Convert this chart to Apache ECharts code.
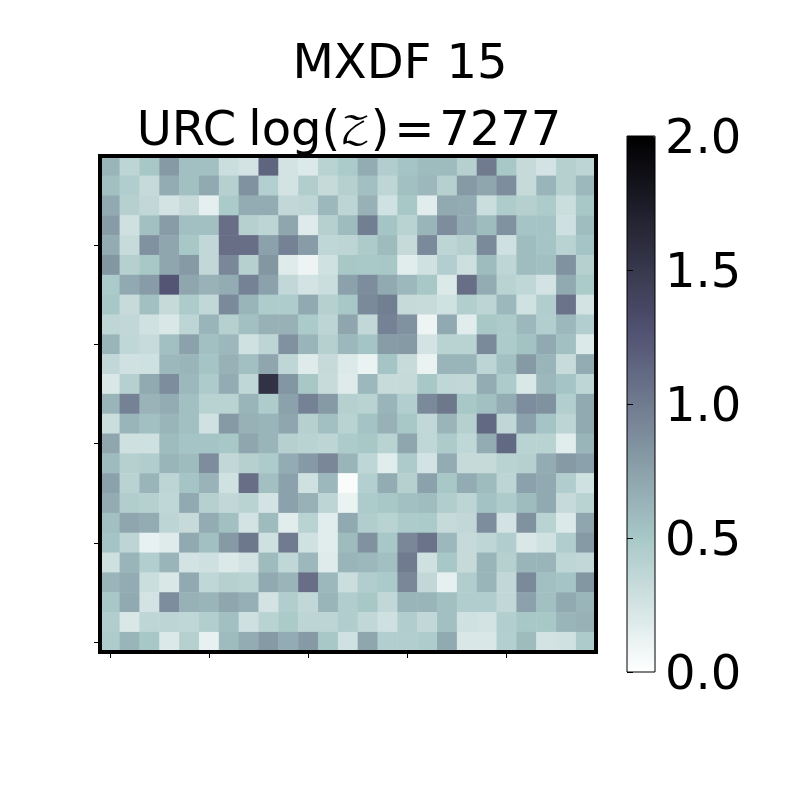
<!DOCTYPE html>
<html>
<head>
<meta charset="utf-8">
<style>html,body{margin:0;padding:0;background:#fff}#c{width:800px;height:800px}</style>
<script src="https://cdn.jsdelivr.net/npm/echarts@6/dist/echarts.min.js"></script>
</head>
<body>
<div id="c"></div>
<script>
const mainTitle = 'MXDF 15';
const subTitle = 'URC\u2005log({z|𝒵})\u200a=\u200a7277';
const colorbarTicks = [0, 0.5, 1, 1.5, 2];
const colCats = Array.from({length: 25}, (_, i) => String(i));
const rowCats = Array.from({length: 25}, (_, i) => String(i));
// rows listed top to bottom
const cellValues = [
[.62,.38,.5,.8,.55,.55,.3,.25,1.15,.25,.2,.4,.48,.68,.45,.52,.58,.58,.42,1.0,.5,.33,.25,.42,.38],
[.55,.45,.33,.68,.55,.7,.42,.85,.43,.25,.45,.33,.42,.55,.37,.55,.6,.42,.8,.72,.88,.33,.62,.42,.6],
[.7,.42,.35,.25,.33,.15,.48,.68,.68,.35,.37,.6,.38,.65,.27,.5,.17,.7,.68,.3,.46,.42,.47,.3,.5],
[.78,.28,.55,.78,.55,.55,1.08,.42,.38,.72,.18,.42,.58,.98,.52,.4,.62,.88,.68,.58,.85,.52,.52,.28,.57],
[.68,.32,.85,.72,.5,.35,1.08,1.08,.75,.95,.78,.36,.38,.47,.58,.33,.9,.38,.42,.9,.28,.57,.52,.4,.52],
[.82,.42,.5,.72,.8,.35,.92,.42,.82,.18,.1,.27,.5,.49,.5,.17,.27,.44,.29,.58,.37,.57,.55,.85,.42],
[.48,.7,.78,1.25,.72,.64,.68,.95,.75,.35,.25,.3,.75,.88,.7,.6,.5,.2,1.08,.68,.4,.36,.25,.7,.48],
[.5,.32,.55,.33,.47,.35,.9,.62,.46,.46,.7,.42,.5,.9,.98,.33,.32,.27,.44,.38,.6,.27,.45,1.05,.25],
[.37,.35,.27,.22,.38,.62,.42,.55,.65,.65,.48,.38,.72,.35,.95,.85,.1,.7,.17,.5,.47,.6,.44,.6,.44],
[.62,.36,.32,.55,.75,.55,.6,.27,.38,.85,.62,.42,.6,.52,.78,.8,.25,.4,.4,.9,.47,.54,.7,.55,.2],
[.35,.27,.28,.6,.62,.52,.65,.55,.72,.37,.18,.33,.2,.12,.52,.32,.12,.62,.62,.38,.55,.8,.62,.32,.68],
[.22,.42,.7,.88,.6,.47,.68,.36,1.55,.82,.5,.32,.18,.6,.32,.33,.5,.36,.35,.68,.47,.22,.6,.52,.37],
[.62,.95,.63,.68,.55,.4,.4,.62,.46,.75,.95,.8,.42,.4,.62,.44,.9,1.02,.5,.55,.68,.88,.85,.44,.7],
[.3,.62,.55,.62,.55,.27,.8,.65,.62,.72,.42,.55,.4,.53,.65,.5,.35,.62,.42,1.12,.36,.75,.52,.38,.7],
[.72,.28,.28,.58,.52,.52,.5,.72,.62,.42,.4,.38,.47,.5,.4,.72,.36,.47,.36,.68,1.12,.4,.4,.17,.62],
[.58,.42,.45,.62,.58,.88,.35,.42,.47,.68,.8,.92,.62,.37,.17,.47,.25,.68,.33,.33,.4,.42,.68,.8,.75],
[.75,.4,.62,.38,.52,.63,.27,1.08,.55,.75,.28,.6,.03,.43,.68,.42,.75,.5,.68,.58,.38,.75,.7,.45,.27],
[.68,.45,.42,.36,.7,.42,.35,.4,.25,.75,.65,.38,.12,.47,.5,.55,.57,.45,.38,.54,.47,.58,.7,.33,.4],
[.55,.72,.68,.38,.33,.68,.55,.25,.58,.17,.4,.17,.7,.45,.4,.47,.48,.33,.35,.88,.25,.85,.4,.2,.72],
[.52,.38,.13,.18,.7,.55,.8,1.02,.28,1.0,.27,.17,.58,.85,.5,.92,1.05,.6,.33,.37,.45,.22,.27,.45,.8],
[.28,.62,.44,.62,.25,.28,.2,.25,.58,.36,.6,.18,.62,.6,.55,1.0,.28,.5,.33,.62,.42,.62,.62,.37,.35],
[.62,.68,.3,.22,.7,.36,.42,.4,.7,.62,1.08,.6,.3,.45,.48,.92,.35,.14,.45,.62,.35,.9,.55,.52,.82],
[.5,.7,.25,.88,.65,.62,.72,.66,.25,.45,.35,.62,.45,.5,.35,.62,.62,.55,.45,.45,.35,.75,.55,.7,.62],
[.45,.22,.37,.38,.36,.44,.55,.28,.4,.48,.38,.38,.45,.35,.28,.45,.35,.55,.27,.25,.44,.5,.5,.62,.65],
[.46,.62,.5,.2,.42,.13,.58,.68,.8,.68,.8,.5,.27,.72,.44,.44,.46,.7,.22,.22,.43,.58,.25,.27,.47]
];

// matplotlib "bone" anchors, reversed
function seg(t, pts) {
  for (let i = 1; i < pts.length; i++) {
    if (t <= pts[i][0]) {
      const a = pts[i - 1], b = pts[i];
      return a[1] + (b[1] - a[1]) * (t - a[0]) / (b[0] - a[0]);
    }
  }
  return 1;
}
const R = [[0,0],[.746032,.652778],[1,1]];
const G = [[0,0],[.365079,.319444],[.746032,.777778],[1,1]];
const B = [[0,0],[.365079,.444444],[1,1]];
const palette = [];
for (let i = 0; i <= 64; i++) {
  const t = 1 - i / 64;
  palette.push('rgb(' + [R, G, B].map(p => Math.round(seg(t, p) * 255)).join(',') + ')');
}

const cells = [];
cellValues.forEach((row, k) => row.forEach((v, c) => cells.push([c, 24 - k, v])));

const font = '"DejaVu Sans"';
const mathFont = font + ', "DejaVu Math TeX Gyre", "DejaVu Serif"';
const everyFifth = i => i % 5 === 0;
const chart = echarts.init(document.getElementById('c'), null, {renderer: 'canvas'});
chart.setOption({
  animation: false,
  backgroundColor: '#fff',
  title: [
    {text: mainTitle, left: 400, top: 42, textAlign: 'center', padding: 0,
     textStyle: {fontFamily: font, fontSize: 48, fontWeight: 'normal', color: '#000'}},
    {text: subTitle, left: 349, top: 109, textAlign: 'center', padding: 0,
     textStyle: {fontFamily: mathFont, fontSize: 48, fontWeight: 'normal', color: '#000',
       rich: {z: {fontFamily: mathFont, fontSize: 38, color: '#000'}}}}
  ],
  grid: [
    {left: 100, top: 156, width: 496, height: 496, show: true, borderColor: '#000', borderWidth: 0, containLabel: false},
    {left: 627, top: 136, width: 28, height: 536, show: true, z: 6, borderColor: '#000', borderWidth: 1, backgroundColor: 'transparent'}
  ],
  xAxis: [
    {type: 'category', data: colCats, gridIndex: 0, position: 'bottom',
     axisLine: {show: false},
     axisTick: {show: true, alignWithLabel: true, interval: everyFifth, length: 6, lineStyle: {color: '#000', width: 1}},
     axisLabel: {show: false}, splitLine: {show: false}},
    {type: 'value', gridIndex: 1, show: false, min: 0, max: 1}
  ],
  yAxis: [
    {type: 'category', data: rowCats, gridIndex: 0, position: 'left',
     axisLine: {show: false},
     axisTick: {show: true, alignWithLabel: true, interval: everyFifth, length: 6, lineStyle: {color: '#000', width: 1}},
     axisLabel: {show: false}, splitLine: {show: false}},
    {type: 'value', gridIndex: 1, position: 'right', min: 0, max: 2, interval: 0.5, z: 6,
     axisLine: {show: false},
     axisTick: {show: true, length: 6, lineStyle: {color: '#000', width: 1}},
     axisLabel: {show: true, margin: 10, color: '#000', fontFamily: font, fontSize: 48,
                 customValues: colorbarTicks, formatter: v => '{v|' + v.toFixed(1) + '}',
                 rich: {v: {fontFamily: font, fontSize: 48, color: '#000', padding: [10, 0, 0, 0]}}},
     splitLine: {show: false}}
  ],
  visualMap: {
    type: 'continuous', min: 0, max: 2, seriesIndex: 0, dimension: 2,
    calculable: false, realtime: false, orient: 'vertical',
    left: 627, top: 136, itemWidth: 28, itemHeight: 536, padding: 0, text: null, showLabel: false,
    inRange: {color: palette}
  },
  series: [{
    type: 'heatmap', xAxisIndex: 0, yAxisIndex: 0, data: cells,
    itemStyle: {borderWidth: 0}, emphasis: {disabled: true}, silent: true, progressive: 0
  }],
  graphic: [{
    type: 'rect', z: 100, silent: true,
    shape: {x: 100, y: 156, width: 496, height: 496},
    style: {fill: null, stroke: '#000', lineWidth: 4}
  }]
});
</script>
</body>
</html>
